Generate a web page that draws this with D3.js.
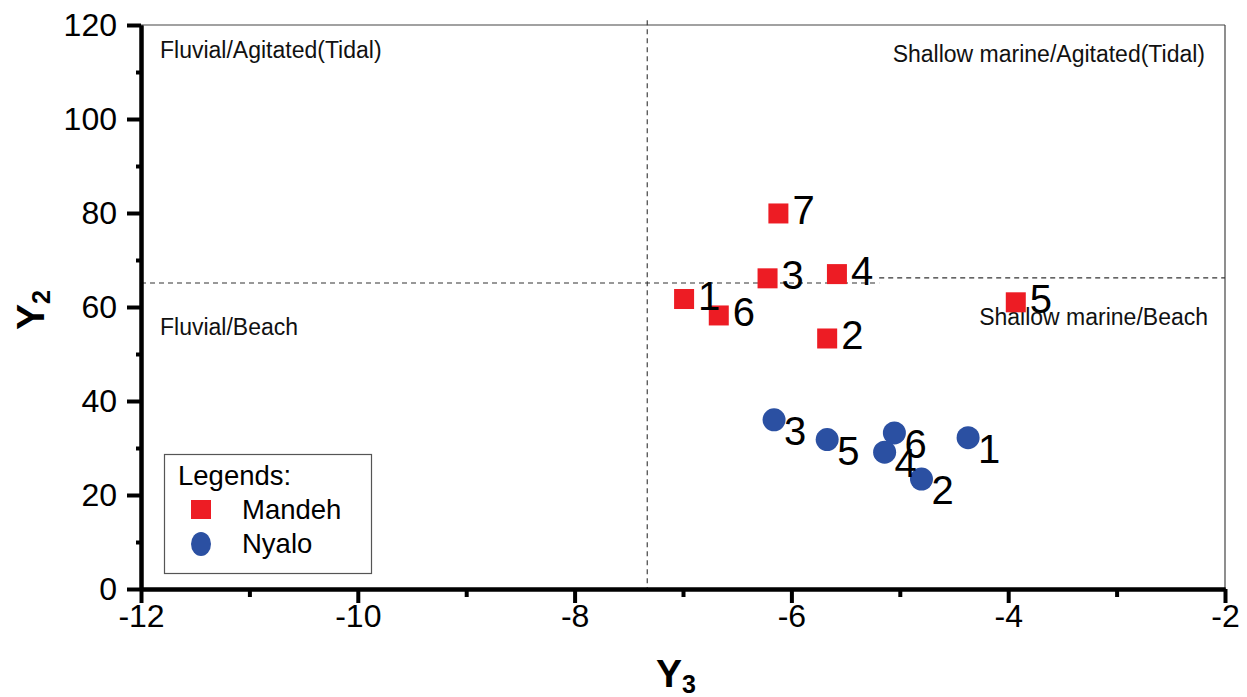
<!DOCTYPE html>
<html>
<head>
<meta charset="utf-8">
<script src="https://cdn.jsdelivr.net/npm/d3@7"></script>
<style>
  html, body { margin: 0; padding: 0; background: #fff; }
  svg { display: block; font-family: "Liberation Sans", Arial, sans-serif; }
</style>
</head>
<body>
<svg id="chart" width="1247" height="697"></svg>
<script>
// Mandeh samples (Y3, Y2)
const mandehIds = ["1", "2", "3", "4", "5", "6", "7"];
const mandehY3  = [-6.99, -5.67, -6.22, -5.58, -3.93, -6.67, -6.12];
const mandehY2  = [61.7, 53.3, 66.1, 67.0, 61.0, 58.2, 79.9];

// Nyalo samples (Y3, Y2)
const nyaloIds = ["1", "2", "3", "4", "5", "6"];
const nyaloY3  = [-4.37, -4.80, -6.16, -5.14, -5.67, -5.05];
const nyaloY2  = [32.2, 23.4, 36.0, 29.1, 31.8, 33.2];

// Axis ticks
const xMajorTicks = [-12, -10, -8, -6, -4, -2];
const xMinorTicks = [-11, -9, -7, -5, -3];
const yMajorTicks = [0, 20, 40, 60, 80, 100, 120];
const yMinorTicks = [10, 30, 50, 70, 90, 110];

// Environment boundaries
const y3Boundary = -7.33;
const y2BoundaryLeft = 65.1;   // left of the step
const y2BoundaryRight = 66.2;  // right of the step
const y2StepAt = -5.19;

const quadrantLabels = [
  { text: "Fluvial/Agitated(Tidal)", corner: "tl" },
  { text: "Shallow marine/Agitated(Tidal)", corner: "tr" },
  { text: "Fluvial/Beach", corner: "bl" },
  { text: "Shallow marine/Beach", corner: "br" }
];

const mandeh = mandehIds.map((id, i) => ({ id, x: mandehY3[i], y: mandehY2[i] }));
const nyalo = nyaloIds.map((id, i) => ({ id, x: nyaloY3[i], y: nyaloY2[i] }));

const RED = "#ed1c24";
const BLUE = "#2b50a2";

const svg = d3.select("#chart");
const m = { left: 141, right: 22, top: 25, bottom: 108 };
const W = 1247, H = 697;

const x = d3.scaleLinear().domain([-12, -2]).range([m.left, W - m.right]);
const y = d3.scaleLinear().domain([0, 120]).range([H - m.bottom, m.top]);

// Frame: thin top and right borders
svg.append("line")
  .attr("x1", x(-12)).attr("x2", x(-2)).attr("y1", y(120)).attr("y2", y(120))
  .attr("stroke", "#444").attr("stroke-width", 1.2);
svg.append("line")
  .attr("x1", x(-2)).attr("x2", x(-2)).attr("y1", y(120)).attr("y2", y(0))
  .attr("stroke", "#444").attr("stroke-width", 1.2);

// Dashed boundaries
const dash = g => g.attr("stroke", "#333").attr("stroke-width", 1.1).attr("stroke-dasharray", "5,4").attr("fill", "none");
svg.append("line")
  .attr("x1", x(y3Boundary)).attr("x2", x(y3Boundary))
  .attr("y1", y(121)).attr("y2", y(0)).call(dash);
svg.append("line")
  .attr("x1", x(-12)).attr("x2", x(y2StepAt))
  .attr("y1", y(y2BoundaryLeft)).attr("y2", y(y2BoundaryLeft)).call(dash);
svg.append("line")
  .attr("x1", x(y2StepAt)).attr("x2", x(-2))
  .attr("y1", y(y2BoundaryRight)).attr("y2", y(y2BoundaryRight)).call(dash);

// Quadrant captions
const qPos = {
  tl: { x: x(-12) + 19, y: 58, anchor: "start" },
  tr: { x: x(-2) - 20, y: 62, anchor: "end" },
  bl: { x: x(-12) + 19, y: 335, anchor: "start" },
  br: { x: x(-2) - 17, y: 325, anchor: "end" }
};
svg.selectAll("text.quad").data(quadrantLabels).join("text")
  .attr("class", "quad")
  .attr("x", d => qPos[d.corner].x)
  .attr("y", d => qPos[d.corner].y)
  .attr("text-anchor", d => qPos[d.corner].anchor)
  .attr("font-size", 23)
  .attr("fill", "#111")
  .text(d => d.text);

// Axes
function styleAxis(g, labelSize) {
  g.select(".domain").attr("stroke", "#000").attr("stroke-width", 4);
  g.selectAll(".tick line").attr("stroke", "#000").attr("stroke-width", 4);
  g.selectAll(".tick text").attr("font-size", labelSize).attr("fill", "#000")
    .attr("font-family", "'Liberation Sans', Arial, sans-serif");
}

const xAxisMinor = svg.append("g").attr("transform", `translate(0,${y(0)})`)
  .call(d3.axisBottom(x).tickValues(xMinorTicks).tickSize(8).tickSizeOuter(0).tickFormat(""));
styleAxis(xAxisMinor, 0);
const xAxis = svg.append("g").attr("transform", `translate(0,${y(0)})`)
  .call(d3.axisBottom(x).tickValues(xMajorTicks).tickSize(14).tickSizeOuter(0).tickPadding(1).tickFormat(d => String(d)));
styleAxis(xAxis, 32);

const yAxisMinor = svg.append("g").attr("transform", `translate(${x(-12)},0)`)
  .call(d3.axisLeft(y).tickValues(yMinorTicks).tickSize(5).tickSizeOuter(0).tickFormat(""));
styleAxis(yAxisMinor, 0);
const yAxis = svg.append("g").attr("transform", `translate(${x(-12)},0)`)
  .call(d3.axisLeft(y).tickValues(yMajorTicks).tickSize(14).tickSizeOuter(0).tickPadding(10).tickFormat(d => String(d)));
styleAxis(yAxis, 32);

// Axis titles
const xTitle = svg.append("text")
  .attr("x", 656).attr("y", 687)
  .attr("font-size", 39).attr("font-weight", "bold");
xTitle.append("tspan").text("Y");
xTitle.append("tspan").attr("font-size", 25).attr("dy", 6).text("3");

const yTitle = svg.append("text")
  .attr("transform", "translate(44,330) rotate(-90)")
  .attr("font-size", 39).attr("font-weight", "bold");
yTitle.append("tspan").text("Y");
yTitle.append("tspan").attr("font-size", 25).attr("dy", 6).text("2");

// Markers
const sq = 20;
svg.selectAll("rect.mandeh").data(mandeh).join("rect")
  .attr("class", "mandeh")
  .attr("x", d => x(d.x) - sq / 2).attr("y", d => y(d.y) - sq / 2)
  .attr("width", sq).attr("height", sq)
  .attr("fill", RED);

const r = 11.5;
svg.selectAll("circle.nyalo").data(nyalo).join("circle")
  .attr("class", "nyalo")
  .attr("cx", d => x(d.x)).attr("cy", d => y(d.y)).attr("r", r)
  .attr("fill", BLUE);

// Sample numbers
svg.selectAll("text.mlab").data(mandeh).join("text")
  .attr("class", "mlab")
  .attr("x", d => x(d.x) + 14).attr("y", d => y(d.y) + 11)
  .attr("font-size", 40).attr("fill", "#000")
  .text(d => d.id);

svg.selectAll("text.nlab").data(nyalo).join("text")
  .attr("class", "nlab")
  .attr("x", d => x(d.x) + 10).attr("y", d => y(d.y) + 25)
  .attr("font-size", 40).attr("fill", "#000")
  .text(d => d.id);

// Legend
const lg = svg.append("g");
lg.append("rect")
  .attr("x", 164.5).attr("y", 454.5).attr("width", 207).attr("height", 119)
  .attr("fill", "#fff").attr("stroke", "#555").attr("stroke-width", 1.2);
lg.append("text").attr("x", 178).attr("y", 485).attr("font-size", 27.5).text("Legends:");
lg.append("rect").attr("x", 191).attr("y", 500).attr("width", 20).attr("height", 19).attr("fill", RED);
lg.append("text").attr("x", 242).attr("y", 519).attr("font-size", 27.5).text("Mandeh");
lg.append("ellipse").attr("cx", 201).attr("cy", 544).attr("rx", 10).attr("ry", 12).attr("fill", BLUE);
lg.append("text").attr("x", 242).attr("y", 553).attr("font-size", 27.5).text("Nyalo");
</script>
</body>
</html>
